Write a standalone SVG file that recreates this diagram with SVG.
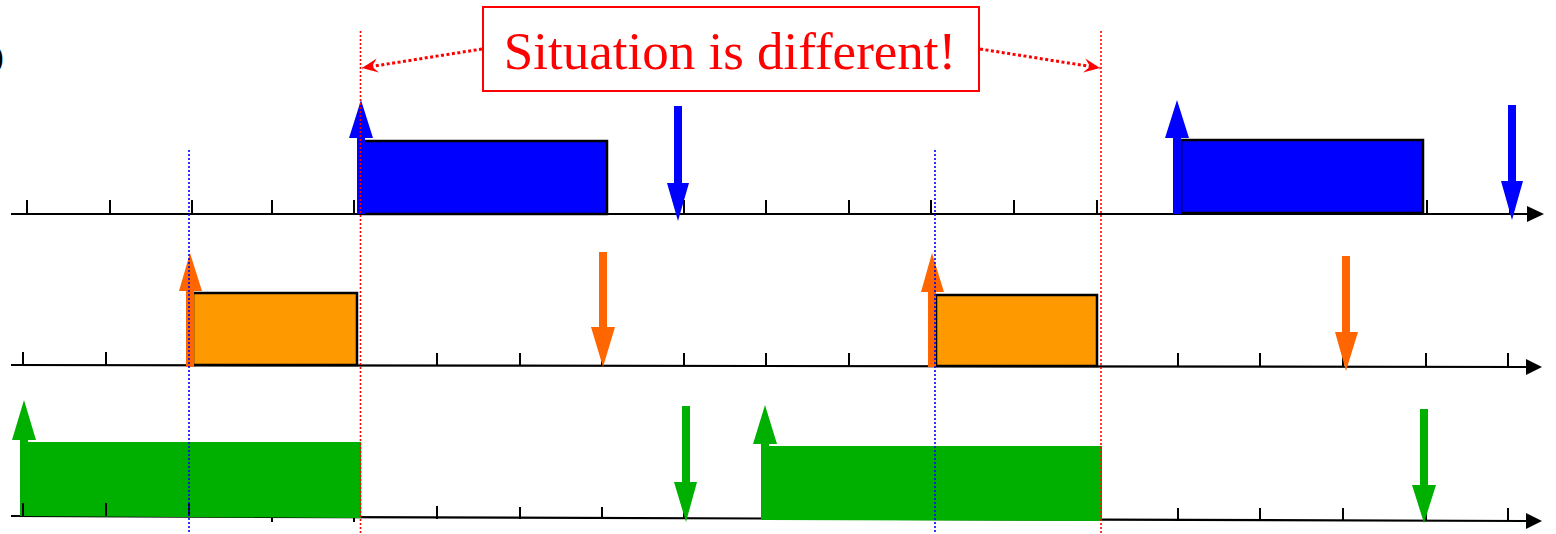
<svg xmlns="http://www.w3.org/2000/svg" width="1556" height="534" viewBox="0 0 1556 534">
<style>
.axis{stroke:#000;stroke-width:2.2;fill:none}
.tick{stroke:#000;stroke-width:2;fill:none}
.vred{stroke:#FF0000;stroke-width:1.6;stroke-dasharray:2 2;fill:none}
.vblue{stroke:#0000FF;stroke-width:1.6;stroke-dasharray:2 2;fill:none}
.conn{stroke:#FF0000;stroke-width:3;stroke-dasharray:3 2.5;fill:none}
.blue{fill:#0000FF}
.orange{fill:#FF6600}
.green{fill:#00B000}
.brect{fill:#0000FF;stroke:#000;stroke-width:2.5}
.orect{fill:#FF9900;stroke:#000;stroke-width:2.5}
.lbl{font-family:"Liberation Serif","Times New Roman",serif;font-size:53px;fill:#FF0000}
</style>
<defs>
<marker id="ah" viewBox="-16 -8 17 16" refX="0" refY="0" markerWidth="17" markerHeight="16" markerUnits="userSpaceOnUse" orient="auto">
<path d="M0,0 L-16,-7 L-10,0 L-16,7 Z" fill="#FF0000"/>
</marker>
</defs>
<rect width="1556" height="534" fill="#fff"/>
<text x="-7" y="67" font-family="Liberation Serif, serif" font-size="32" fill="#000">)</text>

<g id="row1-axis">
<line class="axis" x1="11" y1="214" x2="1530" y2="214"/>
<polygon points="1527,206 1544,214 1527,222" fill="#000"/>
<path class="tick" d="M27,200V214M110,200V214M192,200V214M272,200V214M354,200V214M437,200V214M520,200V214M602,200V214M684,200V214M766,200V214M849,200V214M931,200V214M1014,200V214M1097,200V214M1180,200V214M1262,200V214M1345,200V214M1427,200V214M1510,200V214"/>
</g>
<g id="row2-axis">
<line class="axis" x1="11" y1="365" x2="1528" y2="367"/>
<polygon points="1526,359 1542,367 1526,375" fill="#000"/>
<path class="tick" d="M23,352V365M106,352V365M189,352V365M272,352V365M354,353V366M437,353V366M520,353V366M602,353V366M684,353V366M766,353V366M849,353V366M931,353V366M1014,353V366M1097,353V366M1178,353V367M1260,353V367M1343,353V367M1426,353V367M1508,353V367"/>
</g>
<g id="row3-axis">
<line class="axis" x1="11" y1="516" x2="1528" y2="521"/>
<polygon points="1526,513 1542,521 1526,529" fill="#000"/>
<path class="tick" d="M272,516V522M354,516V522M437,506V519M520,507V519M602,507V519M684,507V519M766,508V520M849,508V520M931,509V520M1014,509V520M1097,509V520M1178,508V521M1260,508V521M1343,508V521M1426,508V521M1508,508V521"/>
</g>

<g id="blue-task">
<rect class="brect" x="361" y="141" width="246" height="73"/>
<rect class="brect" x="1181" y="140" width="242" height="73"/>
<polygon class="blue" points="357,214 357,138 349,138 361,100 373,138 365,138 365,214"/>
<polygon class="blue" points="674,106 674,183 667,183 678,221 689,183 682,183 682,106"/>
<polygon class="blue" points="1173,214 1173,138 1165,138 1177,100 1189,138 1181,138 1181,214"/>
<polygon class="blue" points="1508,105 1508,181 1501,181 1512,220 1523,181 1516,181 1516,105"/>
</g>

<g id="orange-task">
<rect class="orect" x="193" y="293" width="164" height="72"/>
<rect class="orect" x="936" y="295" width="161" height="71"/>
<polygon class="orange" points="186,367 186,291 179,291 190,253 202,291 194,291 194,367"/>
<polygon class="orange" points="599,252 599,327 591,327 603,367 615,327 607,327 607,252"/>
<polygon class="orange" points="928,367 928,292 921,292 932,253 944,292 936,292 936,367"/>
<polygon class="orange" points="1342,256 1342,332 1335,332 1346,371 1358,332 1350,332 1350,256"/>
</g>

<g id="green-task">
<polygon class="green" points="20,442 361,442 361,518 20,516"/>
<polygon class="green" points="762,446 1102,446 1102,521 762,520"/>
<polygon class="green" points="20,516 20,440 12,440 24,400 36,440 28,440 28,516"/>
<polygon class="green" points="682,406 682,482 674,482 686,522 697,482 690,482 690,406"/>
<polygon class="green" points="761,520 761,444 753,444 765,405 777,444 769,444 769,520"/>
<polygon class="green" points="1420,409 1420,485 1412,485 1424,523 1436,485 1428,485 1428,409"/>
<path class="tick" d="M23,503V516M106,503V516M189,503V516"/>
</g>

<g id="guides">
<line class="vblue" x1="189" y1="150" x2="189" y2="534"/>
<line class="vblue" x1="935" y1="150" x2="935" y2="534"/>
<line class="vred" x1="360.5" y1="31" x2="360.5" y2="534"/>
<line class="vred" x1="1101" y1="31" x2="1101" y2="534"/>
</g>

<g id="label">
<rect x="483" y="7" width="496" height="84" fill="#fff" stroke="#FF0000" stroke-width="2"/>
<text class="lbl" x="730" y="69" text-anchor="middle">Situation is different!</text>
</g>

<g id="connectors">
<line class="conn" x1="482" y1="49" x2="362" y2="68" marker-end="url(#ah)"/>
<line class="conn" x1="980" y1="49" x2="1100" y2="68" marker-end="url(#ah)"/>
</g>
</svg>
